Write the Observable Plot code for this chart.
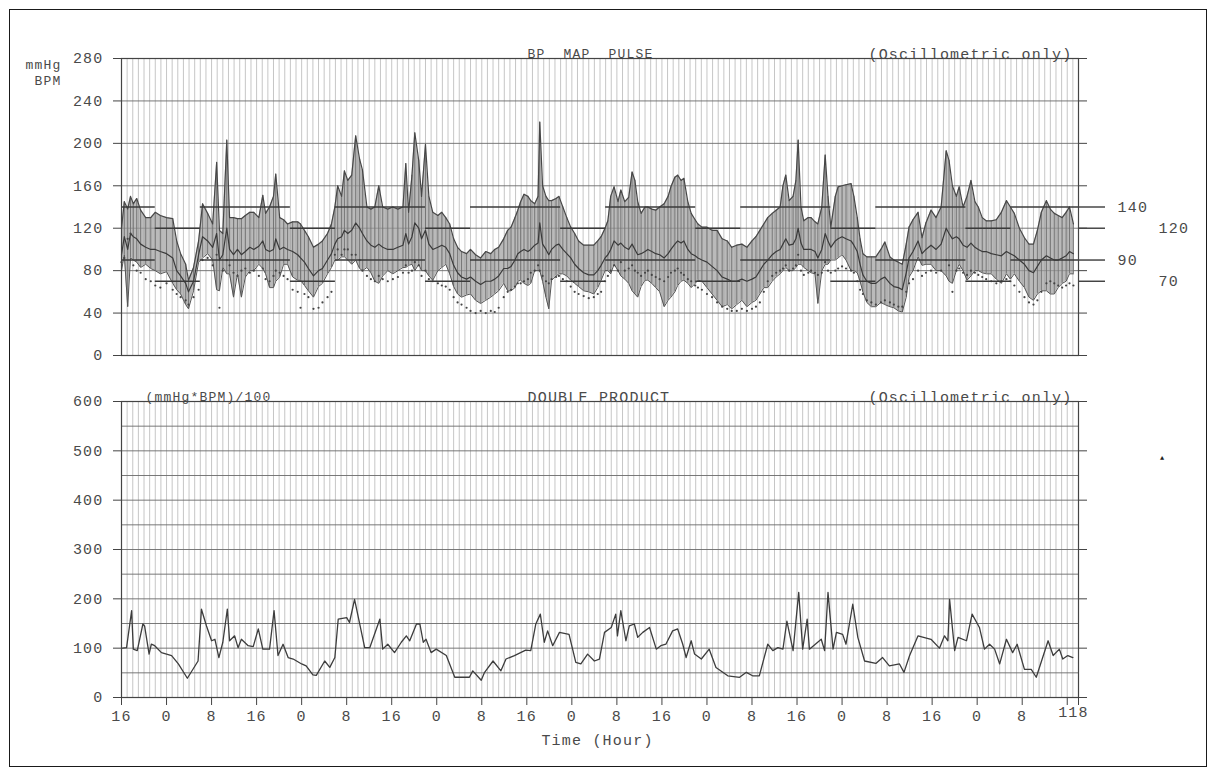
<!DOCTYPE html>
<html>
<head>
<meta charset="utf-8">
<script src="https://cdn.jsdelivr.net/npm/d3@7"></script>
<script src="https://cdn.jsdelivr.net/npm/@observablehq/plot@0.6"></script>
<style>
html,body{margin:0;padding:0;background:#fff;}
#page{position:relative;width:1216px;height:776px;overflow:hidden;background:#fff;}
#border{position:absolute;left:9px;top:9px;width:1198px;height:758px;border:1.5px solid #1a1a1a;box-sizing:border-box;}
.panel{position:absolute;left:0;}
.panel svg{overflow:visible;}
.panel svg text{letter-spacing:1.2px;white-space:pre;}
</style>
</head>
<body>
<div id="page">
  <div id="border"></div>
  <div id="top" class="panel" style="top:0px"></div>
  <div id="bottom" class="panel" style="top:370px"></div>
</div>
<script>
// ---------- Readings (hours since start at 16:00) ----------
const hours = [
  0.0,0.5,1.1,1.6,2.1,2.7,3.4,4.3,5.2,6.0,
  6.9,8.0,9.1,9.8,10.5,11.4,11.9,12.8,13.7,14.4,
  15.3,16.2,16.9,17.4,18.0,18.7,19.2,19.9,20.6,21.3,
  22.0,22.8,23.5,24.4,25.1,25.6,26.3,27.0,27.4,28.1,
  28.8,29.5,30.4,31.3,31.8,32.5,33.2,34.1,35.0,35.7,
  36.6,37.3,37.9,38.4,39.1,39.6,40.2,40.9,41.6,42.3,
  42.8,43.6,44.3,45.0,45.7,46.4,47.3,48.2,49.1,50.0,
  50.5,51.0,51.6,52.1,52.8,53.3,54.0,54.6,55.3,56.2,
  56.9,57.6,58.3,59.0,59.7,60.4,61.3,62.0,62.9,63.8,
  64.7,65.6,66.3,67.0,67.9,68.6,69.2,69.9,70.4,70.9,
  71.5,72.2,72.7,73.4,74.0,74.3,74.8,75.4,75.9,76.4,
  77.2,77.7,78.4,79.1,79.8,80.5,81.2,82.1,83.0,83.9,
  84.6,85.2,85.9,86.4,86.9,87.5,88.2,88.7,89.4,90.1,
  90.7,91.2,91.7,92.3,93.0,93.5,94.2,94.9,95.6,96.4,
  97.1,97.6,98.3,98.8,99.4,99.9,100.6,101.2,101.9,102.4,
  103.1,104.0,104.9,105.8,106.7,107.6,108.4,109.3,110.2,111.1,
  112.0,112.7,113.4,114.1,114.8,115.6,116.3,117.0,117.5,118.0,
  118.6,119.3,119.8,120.2,120.7,121.2,122.0,122.5,123.2,123.7,
  124.4,125.0,125.5,126.0,126.8,127.3,128.0,128.7,129.6,130.1,
  130.7,131.2,131.7,132.4,133.2,134.0,134.9,135.6,136.5,137.2,
  138.0,138.7,139.4,139.9,140.6,141.5,142.2,142.9,143.8,144.7,
  145.6,146.5,147.0,147.6,148.3,148.8,149.5,150.2,150.9,151.6,
  152.2,152.9,153.6,154.5,155.4,156.3,157.2,157.9,158.6,159.5,
  160.4,161.2,162.0,162.7,163.4,164.3,165.0,165.7,166.4,167.1,
  167.8,168.4,169.1
];
const systolic = [
  120,145,138,150,143,148,137,130,130,135,
  132,130,129,108,96,86,71,83,108,143,
  134,124,182,118,115,203,130,130,129,129,
  132,135,135,130,151,134,140,150,171,130,
  128,124,126,126,124,118,112,102,105,108,
  115,124,140,160,150,174,165,170,207,185,
  175,140,138,140,160,140,138,140,138,140,
  181,135,170,210,184,150,199,150,135,132,
  135,130,124,110,102,98,96,100,95,92,
  98,96,100,102,110,118,121,130,137,145,
  152,150,146,143,150,220,160,150,146,146,
  148,150,140,130,121,115,108,104,104,104,
  108,112,120,127,150,159,145,156,145,149,
  173,165,145,134,140,140,138,137,140,143,
  150,159,168,170,165,167,145,134,128,124,
  121,121,118,118,110,108,102,104,105,102,
  108,112,118,124,130,134,137,140,160,170,
  146,150,165,203,140,127,130,130,126,124,
  140,189,150,121,150,159,160,161,162,150,
  130,110,96,93,93,93,100,107,93,90,
  88,86,105,121,128,135,111,125,137,130,
  140,193,184,160,150,159,140,150,165,145,
  140,130,127,127,128,135,146,140,134,120,
  111,105,105,118,135,146,138,134,132,130,
  135,140,124
];
const diastolic = [
  80,95,46,92,90,88,83,86,82,80,
  77,79,68,62,58,48,44,61,88,92,
  96,90,62,61,83,77,77,55,77,55,
  74,80,80,86,82,77,64,64,70,74,
  86,86,74,71,71,66,61,55,65,68,
  77,83,90,90,93,93,90,86,90,82,
  80,83,78,70,68,75,80,77,80,83,
  83,85,86,80,86,80,80,75,71,80,
  83,86,77,65,58,55,57,58,52,49,
  52,55,58,61,68,61,61,64,70,71,
  68,66,68,80,80,80,70,55,44,71,
  75,77,77,75,71,68,65,61,60,58,
  64,71,80,80,77,86,80,75,72,68,
  61,58,55,65,71,71,68,64,60,46,
  52,55,60,66,70,71,68,64,68,71,
  70,64,58,52,46,48,44,48,52,46,
  50,52,58,64,64,70,74,77,80,83,
  80,80,83,86,86,83,80,78,77,49,
  80,86,86,90,90,92,95,90,80,80,
  78,70,60,50,46,46,50,48,46,45,
  42,41,55,74,80,93,85,86,86,80,
  80,75,70,68,80,86,80,71,75,80,
  80,78,77,77,72,68,77,72,77,70,
  64,55,52,58,61,61,58,58,64,68,
  70,77,77
];
const meanAP = [
  95,112,100,115,112,110,105,102,100,100,
  98,96,92,80,75,68,60,70,95,112,
  108,102,115,90,95,120,100,95,100,95,
  98,102,100,103,108,100,98,100,110,100,
  102,100,98,95,92,88,82,75,80,82,
  90,96,105,110,112,118,115,118,125,120,
  115,108,104,102,105,102,100,100,102,104,
  115,105,112,125,120,110,118,105,100,102,
  104,102,96,85,78,74,72,74,70,67,
  70,70,72,75,82,82,84,90,96,98,
  100,98,100,104,106,125,105,100,95,100,
  104,105,100,96,92,86,82,78,76,76,
  80,85,92,95,100,108,104,106,102,100,
  105,100,95,96,98,100,98,96,95,92,
  96,100,105,108,106,108,100,96,94,92,
  90,88,84,80,74,72,70,70,72,70,
  72,74,80,86,90,95,98,100,105,110,
  104,105,110,120,106,100,100,100,98,92,
  100,115,108,102,108,110,112,110,108,104,
  98,86,76,70,68,68,72,74,68,65,
  64,62,78,92,98,108,96,100,104,100,
  105,120,115,110,112,110,104,102,106,102,
  100,98,98,96,95,94,98,96,94,90,
  86,80,78,84,90,94,92,90,90,92,
  94,98,96
];
const pulse = [
  88,92,110,115,85,80,78,72,70,66,
  64,68,62,58,55,52,48,55,62,90,
  92,85,95,45,80,90,85,78,75,80,
  82,78,80,75,82,72,70,75,80,78,
  75,72,62,60,45,58,55,44,45,50,
  55,60,95,100,95,100,100,95,95,90,
  80,75,72,70,75,72,70,72,74,78,
  85,78,80,88,85,75,80,72,70,68,
  66,65,62,55,50,48,45,42,40,42,
  40,42,41,45,55,60,62,65,68,68,
  70,72,78,80,85,80,75,70,68,72,
  74,75,72,70,65,60,58,56,54,55,
  58,60,70,75,80,85,80,88,80,82,
  85,80,78,75,78,80,76,74,72,70,
  74,78,80,82,78,76,72,70,66,64,
  62,58,55,50,46,44,42,42,44,42,
  44,46,50,60,70,75,78,80,82,85,
  80,82,85,95,80,76,78,80,78,76,
  78,88,80,78,80,82,84,82,80,78,
  70,62,58,52,50,48,50,52,50,48,
  46,46,60,68,72,80,75,78,80,78,
  80,90,85,60,80,82,78,76,80,78,
  76,74,72,70,68,70,72,70,66,60,
  55,50,48,52,60,68,70,68,66,64,
  66,68,66
];

// ---------- Double product ((mmHg*BPM)/100) ----------
const dpHours = [
  0.2,0.9,1.8,2.1,2.8,3.8,4.1,4.9,5.3,5.9,7.1,8.9,10.1,11.7,13.6,14.2,15.1,16.0,16.6,17.3,
  18.0,18.8,19.2,20.1,20.7,21.3,22.5,23.4,24.3,25.1,26.3,27.1,27.8,28.7,29.6,30.5,32.0,32.8,34.0,34.6,
  36.1,37.0,37.9,38.5,40.0,40.5,41.4,43.2,44.1,45.9,46.4,47.3,48.5,49.7,50.6,51.2,52.4,53.0,53.6,54.1,
  55.0,55.9,57.7,59.2,61.8,62.4,63.9,64.5,66.0,67.4,68.3,69.8,71.8,72.7,73.6,74.4,75.1,75.7,76.6,77.8,
  79.5,80.7,81.6,82.8,84.0,84.9,85.8,87.0,87.8,88.1,88.7,89.6,90.2,91.1,91.7,92.6,93.8,95.0,95.8,96.7,
  97.9,98.8,99.7,100.3,101.2,101.8,103.0,104.4,105.6,107.7,109.8,111.0,112.1,113.3,114.8,115.7,116.6,117.5,118.2,119.3,
  120.3,121.0,121.8,122.2,124.3,124.9,125.5,126.4,127.0,128.1,128.7,129.9,130.8,132.0,134.0,135.2,136.4,138.2,139.0,140.0,
  141.5,143.8,145.3,146.2,146.8,147.1,148.0,148.6,150.1,151.1,152.4,153.3,154.2,155.1,156.0,157.2,158.3,159.1,160.4,161.6,
  162.5,164.6,165.5,166.6,167.2,168.1,169.0
];
const dpValues = [
  100,101,176,98,95,149,145,88,108,105,91,85,68,39,74,179,145,115,118,81,
  112,179,115,125,101,118,105,103,139,98,98,176,85,108,81,78,68,64,46,45,
  74,61,81,159,162,152,199,101,101,159,98,108,91,112,125,115,149,149,112,118,
  91,98,85,41,41,54,35,51,74,54,78,85,96,95,149,169,112,135,105,132,
  128,71,68,88,74,78,132,142,169,125,176,115,145,149,122,132,142,98,105,108,
  135,139,108,81,115,88,78,98,61,44,41,51,44,44,108,95,101,98,155,95,
  213,98,159,98,118,95,213,98,132,128,108,189,122,74,69,81,64,68,51,85,
  125,118,100,125,115,199,95,122,115,169,142,98,108,98,68,118,91,108,57,57,
  41,115,85,98,78,85,81
];

// ---------- Day / night limit periods ----------
const periodStart = [0,6,14,30,38,54,62,78,86,102,110,126,134,150,158];
const periodEnd   = [6,14,30,38,54,62,78,86,102,110,126,134,150,158,170];
const sysLimit    = [140,120,140,120,140,120,140,120,140,120,140,120,140,120,140];
const diaLimit    = [90,70,90,70,90,70,90,70,90,70,90,70,90,70,90];
const dayLevels   = [140, 90];
const nightLevels = [120, 70];

// ---------- Axis ticks ----------
const xTickHours  = [0,8,16,24,32,40,48,56,64,72,80,88,96,104,112,120,128,136,144,152,160];
const xTickLabels = ["16","0","8","16","0","8","16","0","8","16","0","8","16","0","8","16","0","8","16","0","8"];
const endTickHours = [168,170];
const endLabel = "118";
const topYTicks = [0,40,80,120,160,200,240,280];
const botYTicks = [0,100,200,300,400,500,600];
const botGridY  = [0,50,100,150,200,250,300,350,400,450,500,550,600];

const readings = hours.map((t,i)=>({t, sys:systolic[i], dia:diastolic[i], map:meanAP[i], pulse:pulse[i]}));
const dp = dpHours.map((t,i)=>({t, v:dpValues[i]}));
const periods = periodStart.map((s,i)=>({s, e:periodEnd[i], sl:sysLimit[i], dl:diaLimit[i]}));
const labelOf = new Map(xTickHours.map((h,i)=>[h, xTickLabels[i]]));
const hourGrid = d3.range(0, 171, 1);

const FONT = "'Liberation Mono', 'DejaVu Sans Mono', monospace";
const TXT = "#4a4a4a";
const common = {
  width: 1216,
  marginLeft: 121, marginRight: 138,
  style: {fontFamily: FONT, fontSize: "15px", color: TXT, background: "transparent", overflow: "visible"}
};

// ---------- Top panel ----------
const topChart = Plot.plot({
  ...common,
  height: 370, marginTop: 58, marginBottom: 15,
  x: {domain: [0,170], axis: null, label: null},
  y: {domain: [0,280], axis: null, label: null},
  marks: [
    Plot.gridX(hourGrid, {stroke: "#999", strokeOpacity: 0.75, strokeWidth: 0.75}),
    Plot.gridY(topYTicks, {stroke: "#6a6a6a", strokeOpacity: 0.9, strokeWidth: 1}),
    Plot.areaY(readings, {x: "t", y1: "dia", y2: "sys", fill: "#9c9c9c", fillOpacity: 0.7}),
    Plot.ruleX(readings, {x: "t", y1: "dia", y2: "sys", stroke: "#707070", strokeWidth: 0.9}),
    Plot.line(readings, {x: "t", y: "sys", stroke: "#474747", strokeWidth: 1.2}),
    Plot.line(readings, {x: "t", y: "dia", stroke: "#555", strokeWidth: 1}),
    Plot.line(readings, {x: "t", y: "map", stroke: "#3a3a3a", strokeWidth: 1.2}),
    Plot.dot(readings, {x: "t", y: "pulse", r: 1.1, fill: "#444", stroke: null}),
    Plot.ruleY(periods, {y: "sl", x1: "s", x2: "e", stroke: "#3a3a3a", strokeWidth: 1.4}),
    Plot.ruleY(periods, {y: "dl", x1: "s", x2: "e", stroke: "#3a3a3a", strokeWidth: 1.4}),
    Plot.ruleY(dayLevels.concat(nightLevels), {x1: 170, x2: 174.8, stroke: "#3a3a3a", strokeWidth: 1.4}),
    Plot.frame({stroke: "#444", strokeWidth: 1.2}),
    Plot.axisY(topYTicks, {anchor: "left", label: null, tickSize: 8, tickPadding: 10, stroke: "#444", fill: TXT}),
    Plot.axisY(topYTicks, {anchor: "right", label: null, tickSize: 8, tickFormat: () => "", stroke: "#444"}),
    Plot.text(dayLevels, {y: d => d, text: d => String(d), frameAnchor: "right", dx: 39, textAnchor: "start", fill: TXT}),
    Plot.text(nightLevels, {y: d => d, text: d => String(d), frameAnchor: "right", dx: 80, textAnchor: "start", fill: TXT}),
    Plot.text(["mmHg"], {text: d => d, frameAnchor: "top-left", dx: -60, dy: 1, textAnchor: "end", fill: TXT, fontSize: 13}),
    Plot.text(["BPM"], {text: d => d, frameAnchor: "top-left", dx: -60, dy: 17, textAnchor: "end", fill: TXT, fontSize: 13}),
    Plot.text(["BP\u00a0\u00a0MAP\u00a0\u00a0PULSE"], {text: d => d, frameAnchor: "top-left", dx: 406, dy: -10, textAnchor: "start", fill: TXT, fontSize: 13}),
    Plot.text(["(Oscillometric only)"], {text: d => d, frameAnchor: "top-right", dx: -6, dy: -10, textAnchor: "end", fill: TXT})
  ]
});
document.getElementById("top").appendChild(topChart);

// ---------- Bottom panel ----------
const botChart = Plot.plot({
  ...common,
  height: 406, marginTop: 31, marginBottom: 79,
  x: {domain: [0,170], axis: null, label: null},
  y: {domain: [0,600], axis: null, label: null},
  marks: [
    Plot.gridX(hourGrid, {stroke: "#999", strokeOpacity: 0.75, strokeWidth: 0.75}),
    Plot.gridY(botGridY, {stroke: "#6a6a6a", strokeOpacity: 0.9, strokeWidth: 1}),
    Plot.line(dp, {x: "t", y: "v", stroke: "#3d3d3d", strokeWidth: 1.3}),
    Plot.frame({stroke: "#444", strokeWidth: 1.2}),
    Plot.axisY(botYTicks, {anchor: "left", label: null, tickSize: 8, tickPadding: 10, stroke: "#444", fill: TXT}),
    Plot.axisY(botYTicks, {anchor: "right", label: null, tickSize: 8, tickFormat: () => "", stroke: "#444"}),
    Plot.axisX(xTickHours, {anchor: "bottom", label: null, tickSize: 8, tickPadding: 5, tickFormat: d => labelOf.get(d), stroke: "#444", fill: TXT}),
    Plot.axisX(endTickHours, {anchor: "bottom", label: null, tickSize: 8, tickFormat: () => "", stroke: "#444"}),
    Plot.text([endLabel], {x: 169.1, text: d => d, frameAnchor: "bottom", dy: 19, fill: TXT}),
    Plot.text(["Time (Hour)"], {text: d => d, frameAnchor: "bottom-left", dx: 476, dy: 47, textAnchor: "middle", fill: TXT}),
    Plot.text(["(mmHg*BPM)/100"], {text: d => d, frameAnchor: "top-left", dx: 24, dy: -10, textAnchor: "start", fill: TXT, fontSize: 13}),
    Plot.text(["DOUBLE PRODUCT"], {text: d => d, frameAnchor: "top-left", dx: 406, dy: -10, textAnchor: "start", fill: TXT}),
    Plot.text(["(Oscillometric only)"], {text: d => d, frameAnchor: "top-right", dx: -6, dy: -10, textAnchor: "end", fill: TXT}),
    Plot.text(["\u25b2"], {text: d => d, frameAnchor: "top-right", dx: 87, dy: 54, fill: "#222", fontSize: 7})
  ]
});
document.getElementById("bottom").appendChild(botChart);
</script>
</body>
</html>
